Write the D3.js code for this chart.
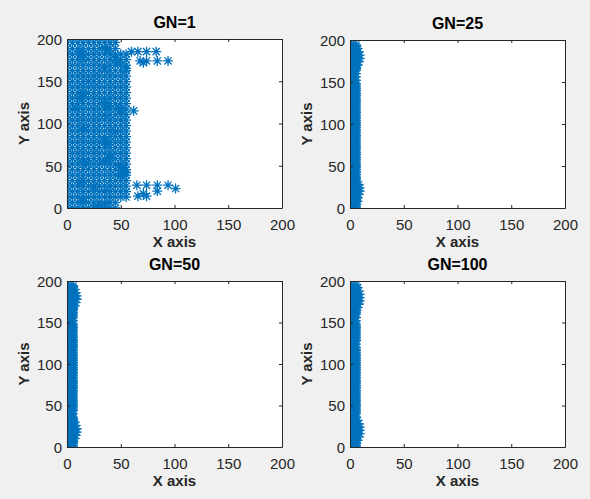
<!DOCTYPE html>
<html>
<head>
<meta charset="utf-8">
<script src="https://cdn.jsdelivr.net/npm/d3@7"></script>
<style>
  html, body { margin: 0; padding: 0; background: #f0f0f0; }
  svg { display: block; }
  text { font-family: "Liberation Sans", Arial, Helvetica, sans-serif; }
</style>
</head>
<body>
<svg id="fig" width="590" height="499"></svg>
<script>
// ---- data ---------------------------------------------------------------
const titles = ["GN=1", "GN=25", "GN=50", "GN=100"];
const tickValues = [0, 50, 100, 150, 200];
const axisDomain = [0, 200];

// GN=1: initial grid of nodes (columns / rows and how far each row reaches)
const gridCols1 = [0, 5, 10, 15, 20, 25, 30, 35, 40, 45, 50, 55];
const gridRows1 = [0, 6.5, 13, 19.5, 26, 32.5, 39, 45.5, 52, 58.5, 65, 71.5, 78, 84.5,
  91, 97.5, 104, 110.5, 117, 123.5, 130, 136.5, 143, 149.5, 156, 162.5, 169, 175.5,
  182, 188.5, 196];
const gridRowMax1 = [45, 45, 55, 55, 55, 55, 55, 55, 55, 55, 55, 55, 55, 55,
  55, 55, 55, 55, 55, 55, 55, 55, 55, 55, 55, 55, 55, 55,
  55, 45, 45];
// GN=1: nodes that sit on top of each other (darker spots)
const clusterX1 = [13, 15, 12, 35, 37, 45, 47, 55, 35, 20, 15, 12, 35, 37, 35, 48, 50, 15, 35, 37, 45, 15, 18, 35, 48, 52, 55, 50, 12, 15, 25, 35, 15, 35, 28, 8, 40, 52, 50];
const clusterY1 = [182, 178, 185, 190, 186, 178, 172, 165, 165, 150, 135, 130, 125, 120, 110, 118, 115, 95, 80, 75, 90, 55, 52, 55, 50, 45, 42, 40, 30, 32, 25, 20, 8, 5, 3, 118, 60, 48, 38];
// GN=1: nodes outside the main block
const strayX1 = [60, 66, 74, 83, 68, 74, 84, 94, 71, 62, 65, 74, 84, 94, 101, 84, 66, 74, 71];
const strayY1 = [185, 185, 185, 185, 174, 174, 174, 174, 172, 115, 27, 27, 27, 27, 23, 20, 14, 14, 17];

// GN=25 / 50 / 100: nodes gathered along the left edge
const stripRows = [0, 2, 4, 6, 8, 10, 12, 14, 16, 18, 20, 22, 24, 26, 28, 30, 32, 34, 36,
  38, 40, 42, 44, 46, 48, 50, 52, 54, 56, 58, 60, 62, 64, 66, 68, 70, 72, 74, 76, 78,
  80, 82, 84, 86, 88, 90, 92, 94, 96, 98, 100, 102, 104, 106, 108, 110, 112, 114, 116,
  118, 120, 122, 124, 126, 128, 130, 132, 134, 136, 138, 140, 142, 144, 146, 148, 150,
  152, 154, 156, 158, 160, 162, 164, 166, 168, 170, 172, 174, 176, 178, 180, 182, 184,
  186, 188, 190, 192, 194];
const stripCols = [1.5, 3.5, 5.5];
// rows of each strip where the inner columns thin out (light streaks)
const gapRows25 = [150, 152, 154, 156, 158, 160, 162];
const gapRows50 = [36, 38, 40, 42, 150, 152, 154, 156];
const gapRows100 = [34, 36, 38, 40, 122, 124, 126, 150, 152, 154, 156, 158];
// bulges near the top and the bottom of each strip
const bulgeX25 = [7, 8, 9, 9, 8, 7, 7, 8, 9, 9, 8, 7];
const bulgeY25 = [170, 174, 178, 182, 186, 190, 12, 16, 20, 24, 28, 8];
const bulgeX50 = [7, 8, 9, 9, 8, 7, 7, 8, 9, 9, 8, 7];
const bulgeY50 = [170, 174, 178, 182, 186, 190, 10, 14, 18, 22, 26, 30];
const bulgeX100 = [7, 8, 9, 9, 9, 8, 7, 7, 8, 9, 9, 9, 8, 7];
const bulgeY100 = [168, 172, 176, 180, 184, 188, 192, 8, 12, 16, 20, 24, 28, 32];

// ---- build point sets ---------------------------------------------------
function gridPoints() {
  const pts = [];
  gridRows1.forEach((y, i) => gridCols1.forEach(x => { if (x <= gridRowMax1[i]) pts.push([x, y]); }));
  clusterX1.forEach((x, i) => pts.push([x, clusterY1[i]]));
  strayX1.forEach((x, i) => pts.push([x, strayY1[i]]));
  return pts;
}
function stripPoints(gaps, bx, by) {
  const pts = [];
  stripRows.forEach((y, r) => stripCols.forEach((x, j) => {
    if (gaps.includes(y) && (j === 1 || r % 2 === 1)) return;
    pts.push([x, y]);
  }));
  bx.forEach((x, i) => pts.push([x, by[i]]));
  return pts;
}
const datasets = [
  gridPoints(),
  stripPoints(gapRows25, bulgeX25, bulgeY25),
  stripPoints(gapRows50, bulgeX50, bulgeY50),
  stripPoints(gapRows100, bulgeX100, bulgeY100)
];

// ---- layout -------------------------------------------------------------
const boxes = [
  { left: 67, top: 39, width: 215, height: 169 },
  { left: 350, top: 40, width: 215, height: 168 },
  { left: 67, top: 281, width: 215, height: 166 },
  { left: 350, top: 281, width: 215, height: 166 }
];
const axisColor = "#262626";
const markerColor = "#0072BD";

// asterisk marker: a plus sign and a cross
const s = 5, d = 3.6;
const asterisk = `M${-s},0H${s}M0,${-s}V${s}M${-d},${-d}L${d},${d}M${-d},${d}L${d},${-d}`;

const svg = d3.select("#fig");

boxes.forEach((b, k) => {
  const x = d3.scaleLinear().domain(axisDomain).range([b.left, b.left + b.width]);
  const y = d3.scaleLinear().domain(axisDomain).range([b.top + b.height, b.top]);
  const g = svg.append("g");

  g.append("rect")
    .attr("x", b.left).attr("y", b.top)
    .attr("width", b.width).attr("height", b.height)
    .attr("fill", "#ffffff");

  const clipId = "clip" + k;
  svg.append("clipPath").attr("id", clipId)
    .append("rect").attr("x", b.left).attr("y", b.top)
    .attr("width", b.width).attr("height", b.height);

  g.append("g").attr("clip-path", `url(#${clipId})`)
    .selectAll("path")
    .data(datasets[k])
    .join("path")
    .attr("transform", p => `translate(${x(p[0])},${y(p[1])})`)
    .attr("d", asterisk)
    .attr("fill", "none")
    .attr("stroke", markerColor)
    .attr("stroke-width", 1.3);

  // axes with inward ticks on all four sides
  const mk = (axis, tx, ty) => {
    const a = g.append("g").attr("transform", `translate(${tx},${ty})`)
      .call(axis.tickValues(tickValues).tickSizeInner(-3).tickSizeOuter(0).tickPadding(7));
    a.select(".domain").attr("stroke", axisColor);
    a.selectAll(".tick line").attr("stroke", axisColor);
    a.selectAll("text").attr("fill", axisColor).style("font-size", "15px")
      .style("font-family", '"Liberation Sans", Arial, Helvetica, sans-serif');
    return a;
  };
  const bottom = mk(d3.axisBottom(x), 0, b.top + b.height);
  bottom.selectAll("text").attr("dy", null).attr("y", 22);
  const left = mk(d3.axisLeft(y), b.left, 0);
  left.selectAll("text").attr("x", -5).attr("dy", "0.35em");
  const top = mk(d3.axisTop(x), 0, b.top);
  top.selectAll("text").remove();
  const right = mk(d3.axisRight(y), b.left + b.width, 0);
  right.selectAll("text").remove();

  // title and axis labels
  g.append("text")
    .attr("x", b.left + b.width / 2).attr("y", b.top - 11)
    .attr("text-anchor", "middle")
    .attr("font-size", 16).attr("font-weight", "bold").attr("fill", "#000")
    .text(titles[k]);
  g.append("text")
    .attr("x", b.left + b.width / 2).attr("y", b.top + b.height + 39)
    .attr("text-anchor", "middle")
    .attr("font-size", 15).attr("font-weight", "bold").attr("fill", axisColor)
    .text("X axis");
  g.append("text")
    .attr("transform", `translate(${b.left - 38},${b.top + b.height / 2}) rotate(-90)`)
    .attr("text-anchor", "middle")
    .attr("font-size", 15).attr("font-weight", "bold").attr("fill", axisColor)
    .text("Y axis");
});
</script>
</body>
</html>
